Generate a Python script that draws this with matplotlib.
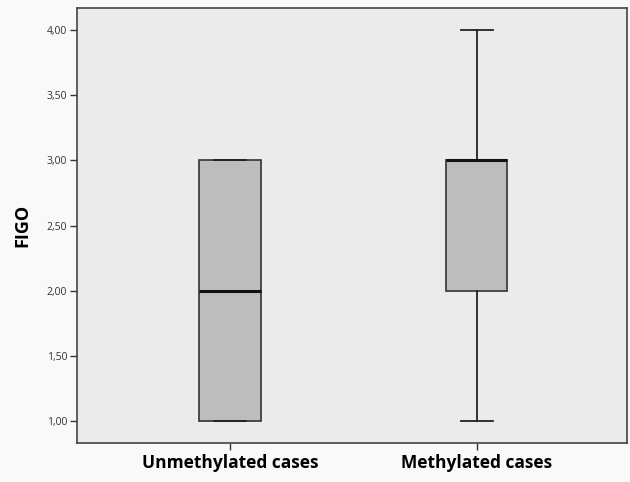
import matplotlib
matplotlib.use('Agg')
import matplotlib.pyplot as plt
from matplotlib.ticker import FuncFormatter

groups = ['Unmethylated cases', 'Methylated cases']
whis_lo = [1.0, 1.0]
q1 = [1.0, 2.0]
medians = [2.0, 3.0]
q3 = [3.0, 3.0]
whis_hi = [3.0, 4.0]
y_ticks = [1.0, 1.5, 2.0, 2.5, 3.0, 3.5, 4.0]

stats = []
for i, name in enumerate(groups):
    stats.append({'label': name, 'whislo': whis_lo[i], 'q1': q1[i], 'med': medians[i],
                  'q3': q3[i], 'whishi': whis_hi[i], 'fliers': []})

plt.rcParams['font.family'] = ['Open Sans', 'DejaVu Sans']

fig = plt.figure(figsize=(6.3, 4.82), dpi=100, facecolor='#f9f9f9')
ax = fig.add_axes([0.122, 0.081, 0.873, 0.902])
ax.set_facecolor('#ebebeb')

ax.bxp(stats, positions=[1, 2], widths=0.25, patch_artist=True, showfliers=False,
       boxprops=dict(facecolor='#bdbdbd', edgecolor='#333333', linewidth=1.2),
       medianprops=dict(color='#111111', linewidth=2.2),
       whiskerprops=dict(color='#222222', linewidth=1.3),
       capprops=dict(color='#222222', linewidth=1.3),
       capwidths=0.13)

ax.set_xlim(0.378, 2.61)
ax.set_ylim(0.83, 4.17)
ax.set_yticks(y_ticks)
ax.yaxis.set_major_formatter(FuncFormatter(lambda v, p: f'{v:.2f}'.replace('.', ',')))
ax.tick_params(axis='y', labelsize=7.5, length=5, width=1, color='#333333', labelcolor='#333333', pad=2)
ax.tick_params(axis='x', labelsize=12.5, length=5, width=1, color='#333333', pad=3)
for lbl in ax.get_xticklabels():
    lbl.set_fontweight('bold')
ax.set_ylabel('FIGO', fontsize=13, fontweight='bold', labelpad=11)

for s in ax.spines.values():
    s.set_color('#444444')
    s.set_linewidth(1.2)

fig.savefig('out.png', dpi=100, facecolor=fig.get_facecolor())
